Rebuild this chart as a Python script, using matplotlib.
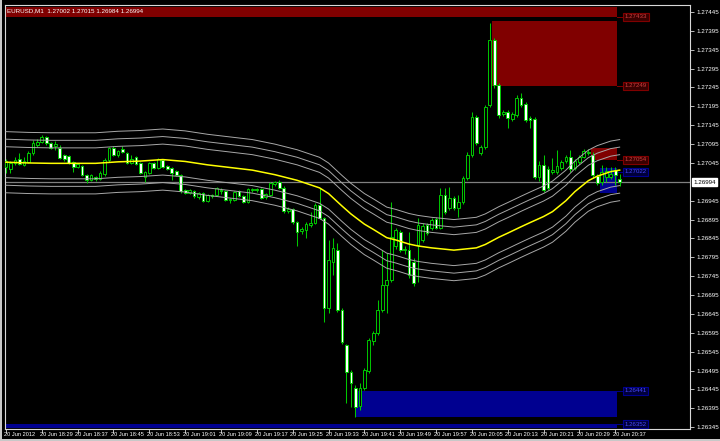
import matplotlib
matplotlib.use("Agg")
import matplotlib.pyplot as plt
from matplotlib.patches import Rectangle
from matplotlib.transforms import blended_transform_factory

plt.rcParams["font.family"] = ["Liberation Sans", "DejaVu Sans"]

# EURUSD M1, 20 Jun 2012 18:21 .. 20:38 (one bar per minute)
opens = [1.27034, 1.27029, 1.27045, 1.27055, 1.27040, 1.27048, 1.27071, 1.27093, 1.27100, 1.27114,
         1.27098, 1.27090, 1.27085, 1.27066, 1.27063, 1.27048, 1.27034, 1.27037, 1.27013, 1.27000,
         1.27008, 1.27002, 1.27016, 1.27053, 1.27085, 1.27066, 1.27082, 1.27071, 1.27045, 1.27061,
         1.27045, 1.27008, 1.27018, 1.27045, 1.27032, 1.27053, 1.27037, 1.27032, 1.27024, 1.27013,
         1.26973, 1.26965, 1.26971, 1.26955, 1.26965, 1.26944, 1.26960, 1.26960, 1.26973, 1.26971,
         1.26947, 1.26947, 1.26971, 1.26957, 1.26942, 1.26973, 1.26976, 1.26976, 1.26955, 1.26960,
         1.26989, 1.26994, 1.26979, 1.26918, 1.26923, 1.26888, 1.26865, 1.26867, 1.26881, 1.26886,
         1.26934, 1.26899, 1.26661, 1.26783, 1.26814, 1.26655, 1.26563, 1.26491, 1.26449, 1.26401,
         1.26449, 1.26494, 1.26573, 1.26594, 1.26655, 1.26722, 1.26735, 1.26825, 1.26862, 1.26814,
         1.26814, 1.26783, 1.26828, 1.26841, 1.26881, 1.26873, 1.26896, 1.26873, 1.26960, 1.26926,
         1.26952, 1.26926, 1.26942, 1.27005, 1.27066, 1.27167, 1.27071, 1.27087, 1.27199, 1.27371,
         1.27252, 1.27175, 1.27180, 1.27161, 1.27172, 1.27217, 1.27201, 1.27164, 1.27161, 1.27008,
         1.27040, 1.27029, 1.27021, 1.27021, 1.27032, 1.27050, 1.27061, 1.27032, 1.27048, 1.27061,
         1.27074, 1.27066, 1.27010, 1.26994, 1.27008, 1.27008, 1.27026, 1.27002]
highs = [1.27055, 1.27050, 1.27061, 1.27071, 1.27061, 1.27077, 1.27106, 1.27108, 1.27119, 1.27116,
         1.27100, 1.27103, 1.27093, 1.27069, 1.27066, 1.27050, 1.27045, 1.27040, 1.27016, 1.27016,
         1.27010, 1.27024, 1.27058, 1.27087, 1.27090, 1.27079, 1.27090, 1.27074, 1.27066, 1.27063,
         1.27048, 1.27024, 1.27048, 1.27048, 1.27058, 1.27055, 1.27040, 1.27034, 1.27026, 1.27016,
         1.26976, 1.26976, 1.26973, 1.26968, 1.26968, 1.26963, 1.26963, 1.26981, 1.26979, 1.26973,
         1.26952, 1.26971, 1.26973, 1.26960, 1.26979, 1.26979, 1.26979, 1.26979, 1.26965, 1.26994,
         1.26997, 1.27000, 1.26984, 1.26928, 1.26926, 1.26891, 1.26875, 1.26888, 1.26915, 1.26939,
         1.26979, 1.26902, 1.26841, 1.26846, 1.26833, 1.26661, 1.26565, 1.26496, 1.26457, 1.26462,
         1.26502, 1.26581, 1.26600, 1.26682, 1.26814, 1.26806, 1.26942, 1.26873, 1.26867, 1.26825,
         1.26862, 1.26793, 1.26899, 1.26886, 1.26886, 1.26899, 1.26902, 1.26979, 1.26979, 1.26981,
         1.26957, 1.26960, 1.27010, 1.27074, 1.27180, 1.27172, 1.27093, 1.27199, 1.27416, 1.27376,
         1.27257, 1.27185, 1.27185, 1.27180, 1.27225, 1.27230, 1.27207, 1.27169, 1.27167, 1.27050,
         1.27066, 1.27037, 1.27058, 1.27079, 1.27053, 1.27066, 1.27079, 1.27055, 1.27066, 1.27082,
         1.27082, 1.27074, 1.27016, 1.27040, 1.27034, 1.27034, 1.27034, 1.27015]
lows = [1.27018, 1.27018, 1.27040, 1.27040, 1.27037, 1.27045, 1.27066, 1.27087, 1.27098, 1.27093,
        1.27082, 1.27079, 1.27055, 1.27050, 1.27042, 1.27021, 1.27032, 1.27010, 1.26992, 1.26997,
        1.26997, 1.27000, 1.27010, 1.27048, 1.27063, 1.27061, 1.27071, 1.27042, 1.27042, 1.27040,
        1.27016, 1.26994, 1.27016, 1.27029, 1.27029, 1.27032, 1.27026, 1.27000, 1.27010, 1.26965,
        1.26963, 1.26963, 1.26952, 1.26949, 1.26942, 1.26942, 1.26952, 1.26957, 1.26963, 1.26944,
        1.26939, 1.26944, 1.26955, 1.26939, 1.26939, 1.26968, 1.26968, 1.26949, 1.26949, 1.26957,
        1.26984, 1.26976, 1.26912, 1.26912, 1.26883, 1.26825, 1.26857, 1.26846, 1.26875, 1.26883,
        1.26896, 1.26624, 1.26647, 1.26748, 1.26650, 1.26565, 1.26409, 1.26398, 1.26372, 1.26390,
        1.26443, 1.26488, 1.26563, 1.26589, 1.26650, 1.26647, 1.26730, 1.26817, 1.26809, 1.26804,
        1.26740, 1.26719, 1.26730, 1.26835, 1.26854, 1.26867, 1.26870, 1.26870, 1.26910, 1.26920,
        1.26920, 1.26902, 1.26936, 1.27000, 1.27061, 1.27093, 1.27066, 1.27082, 1.27193, 1.27244,
        1.27164, 1.27169, 1.27138, 1.27156, 1.27167, 1.27193, 1.27154, 1.27138, 1.27002, 1.26997,
        1.26968, 1.26973, 1.27016, 1.27016, 1.27026, 1.27045, 1.27021, 1.27026, 1.27042, 1.27058,
        1.27066, 1.27005, 1.26987, 1.26987, 1.26994, 1.27002, 1.26987, 1.26984]
closes = [1.27050, 1.27045, 1.27053, 1.27042, 1.27050, 1.27071, 1.27098, 1.27100, 1.27114, 1.27098,
          1.27085, 1.27095, 1.27058, 1.27055, 1.27045, 1.27034, 1.27042, 1.27013, 1.27000, 1.27013,
          1.27002, 1.27018, 1.27053, 1.27085, 1.27066, 1.27077, 1.27074, 1.27045, 1.27055, 1.27042,
          1.27018, 1.27021, 1.27045, 1.27032, 1.27055, 1.27034, 1.27029, 1.27018, 1.27013, 1.26971,
          1.26965, 1.26973, 1.26957, 1.26965, 1.26944, 1.26960, 1.26957, 1.26979, 1.26971, 1.26947,
          1.26949, 1.26968, 1.26957, 1.26942, 1.26976, 1.26976, 1.26973, 1.26952, 1.26963, 1.26992,
          1.26994, 1.26979, 1.26918, 1.26923, 1.26888, 1.26862, 1.26870, 1.26883, 1.26886, 1.26934,
          1.26899, 1.26661, 1.26788, 1.26820, 1.26655, 1.26571, 1.26491, 1.26462, 1.26398, 1.26449,
          1.26496, 1.26576, 1.26594, 1.26655, 1.26722, 1.26735, 1.26849, 1.26867, 1.26814, 1.26817,
          1.26748, 1.26727, 1.26881, 1.26878, 1.26859, 1.26894, 1.26873, 1.26960, 1.26915, 1.26952,
          1.26926, 1.26942, 1.27005, 1.27066, 1.27167, 1.27098, 1.27087, 1.27193, 1.27371, 1.27252,
          1.27172, 1.27180, 1.27164, 1.27175, 1.27217, 1.27199, 1.27159, 1.27159, 1.27008, 1.27040,
          1.26973, 1.26979, 1.27026, 1.27037, 1.27048, 1.27061, 1.27029, 1.27050, 1.27061, 1.27077,
          1.27071, 1.27013, 1.26992, 1.27021, 1.27024, 1.27016, 1.27013, 1.26994]

# centre line of the bands
ma_bars = [0, 5, 10, 15, 20, 25, 30, 35, 40, 45, 50, 55, 60, 65, 70, 72, 75, 77, 80, 82,
           85, 87, 90, 92, 95, 100, 105, 107, 110, 112, 115, 117, 120, 122, 125, 127, 130, 132,
           135, 137]
ma_values = [1.27047, 1.27045, 1.27044, 1.27044, 1.27044, 1.27048, 1.27050, 1.27054, 1.27049, 1.27040,
             1.27033, 1.27026, 1.27014, 1.26999, 1.26979, 1.26964, 1.26931, 1.26910, 1.26883, 1.26869,
             1.26847, 1.26841, 1.26830, 1.26825, 1.26820, 1.26814, 1.26820, 1.26829, 1.26848, 1.26859,
             1.26876, 1.26887, 1.26903, 1.26916, 1.26945, 1.26969, 1.26998, 1.27010, 1.27022, 1.27026]
band_offsets = [0.00041, 0.00061, 0.00081]

time_labels = ["20 Jun 2012", "20 Jun 18:29", "20 Jun 18:37", "20 Jun 18:45", "20 Jun 18:53",
               "20 Jun 19:01", "20 Jun 19:09", "20 Jun 19:17", "20 Jun 19:25", "20 Jun 19:33",
               "20 Jun 19:41", "20 Jun 19:49", "20 Jun 19:57", "20 Jun 20:05", "20 Jun 20:13",
               "20 Jun 20:21", "20 Jun 20:29", "20 Jun 20:37"]
price_ticks = [1.27445, 1.27395, 1.27345, 1.27295, 1.27245, 1.27195, 1.27145, 1.27095, 1.27045,
               1.26945, 1.26895, 1.26845, 1.26795, 1.26745, 1.26695, 1.26645, 1.26595, 1.26545,
               1.26495, 1.26445, 1.26395, 1.26345]
last_price = 1.26994
header = "EURUSD,M1  1.27002 1.27015 1.26984 1.26994"

# zones: (start bar, bottom, top, colour, label level)
zones = [
    (-1.0, 1.27433, 1.27458, "#800000", 1.27433),
    (108.5, 1.27249, 1.27422, "#800000", 1.27249),
    (130.6, 1.27053, 1.27085, "#800000", 1.27054),
    (132.6, 1.26965, 1.27032, "#000090", 1.27022),
    (77.9, 1.26372, 1.26441, "#000090", 1.26441),
    (-1.0, 1.26343, 1.26353, "#000090", 1.26352),
]
zone_end = 136.4

GREEN = "#00c800"
FG = "#d8d8d8"


def draw_candles(ax):
    for i, (o, h, l, c) in enumerate(zip(opens, highs, lows, closes)):
        ax.plot([i, i], [l, h], color=GREEN, lw=0.75, zorder=3, solid_capstyle="butt")
        bottom = min(o, c)
        height = max(abs(c - o), 0.000006)
        face = "black" if c > o else "white"
        ax.add_patch(Rectangle((i - 0.3, bottom), 0.6, height, facecolor=face,
                               edgecolor=GREEN, lw=0.7, zorder=4))


def run():
    fig = plt.figure(figsize=(7.2, 4.41), dpi=100, facecolor="black")
    ax = fig.add_axes([5 / 720, 1 - 429 / 441, 685 / 720, 424 / 441], facecolor="black")
    ax.set_xlim(-0.22, 152.7)
    ax.set_ylim(1.26340, 1.274636)

    # window frame strips
    fig.patches.append(Rectangle((0, 0), 1, 2 / 441, transform=fig.transFigure,
                                 facecolor="#c8c8c8", edgecolor="none"))
    fig.patches.append(Rectangle((0, 0), 2 / 720, 1, transform=fig.transFigure,
                                 facecolor="#c8c8c8", edgecolor="none"))

    for start, lo, hi, col, level in zones:
        ax.add_patch(Rectangle((start, lo), zone_end - start, hi - lo, facecolor=col,
                               edgecolor="none", zorder=1))
        ax.plot([zone_end, 137.8], [level, level], color=col, lw=0.7, zorder=1)
        red = col == "#800000"
        ax.text(140.6, level, f"{level:.5f}", fontsize=4.4, color="#d04040" if red else "#4848ff",
                ha="center", va="center", zorder=5,
                bbox=dict(boxstyle="square,pad=0.25", fc="#3a0000" if red else "#00003a",
                          ec=col, lw=0.8))

    ax.axhline(last_price, color="#808080", lw=0.9, zorder=2)

    draw_candles(ax)

    for off in band_offsets:
        ax.plot(ma_bars, [v + off for v in ma_values], color="#a8a8a8", lw=0.7, zorder=5)
        ax.plot(ma_bars, [v - off for v in ma_values], color="#a8a8a8", lw=0.7, zorder=5)
    ax.plot(ma_bars, ma_values, color="#ffff00", lw=1.1, zorder=6)

    for side in ["left", "top", "bottom", "right"]:
        ax.spines[side].set_color(FG)
        ax.spines[side].set_linewidth(0.8)

    ax.yaxis.tick_right()
    ax.set_yticks(price_ticks)
    ax.set_yticklabels([f"{p:.5f}" for p in price_ticks])
    ax.tick_params(axis="y", colors=FG, labelcolor="white", labelsize=4.5, length=3, width=0.6, pad=2)

    tick_bars = [8 * k for k in range(len(time_labels))]
    ax.set_xticks(tick_bars)
    ax.set_xticklabels([])
    ax.tick_params(axis="x", colors=FG, length=3, width=0.6)
    xtr = ax.get_xaxis_transform()
    for b, lab in zip(tick_bars, time_labels):
        ax.text(b - 0.5, -0.0125, lab, transform=xtr, fontsize=4.1, color="white",
                ha="left", va="center", clip_on=False)

    ytr = blended_transform_factory(ax.transAxes, ax.transData)
    ax.text(1.005, last_price, f"{last_price:.5f}", transform=ytr, fontsize=4.5, color="black",
            ha="left", va="center", clip_on=False,
            bbox=dict(boxstyle="square,pad=0.2", fc="white", ec="white"))

    ax.text(0.003, 0.992, header, transform=ax.transAxes, fontsize=4.5, color="white",
            ha="left", va="top", zorder=7)

    fig.savefig("out.png", dpi=100, facecolor="black")


if __name__ == "__main__":
    run()
